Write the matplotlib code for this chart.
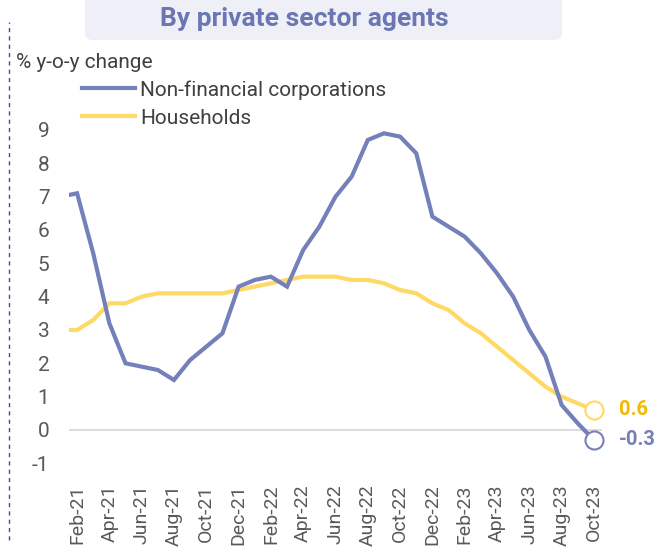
import matplotlib
matplotlib.use("Agg")
import matplotlib.pyplot as plt
from matplotlib.patches import FancyBboxPatch

plt.rcParams['font.family'] = ['Roboto', 'DejaVu Sans']

months = ["Jan-21", "Feb-21", "Mar-21", "Apr-21", "May-21", "Jun-21", "Jul-21", "Aug-21",
          "Sep-21", "Oct-21", "Nov-21", "Dec-21", "Jan-22", "Feb-22", "Mar-22", "Apr-22",
          "May-22", "Jun-22", "Jul-22", "Aug-22", "Sep-22", "Oct-22", "Nov-22", "Dec-22",
          "Jan-23", "Feb-23", "Mar-23", "Apr-23", "May-23", "Jun-23", "Jul-23", "Aug-23",
          "Sep-23", "Oct-23"]
nfc = [7.0, 7.1, 5.3, 3.2, 2.0, 1.9, 1.8, 1.5, 2.1, 2.5, 2.9, 4.3, 4.5, 4.6, 4.3, 5.4,
       6.1, 7.0, 7.6, 8.7, 8.9, 8.8, 8.3, 6.4, 6.1, 5.8, 5.3, 4.7, 4.0, 3.0, 2.2, 0.75,
       0.2, -0.3]
households = [3.0, 3.0, 3.3, 3.8, 3.8, 4.0, 4.1, 4.1, 4.1, 4.1, 4.1, 4.2, 4.3, 4.4, 4.5, 4.6,
              4.6, 4.6, 4.5, 4.5, 4.4, 4.2, 4.1, 3.8, 3.6, 3.2, 2.9, 2.5, 2.1, 1.7, 1.3, 1.0,
              0.8, 0.6]
yticks = [-1, 0, 1, 2, 3, 4, 5, 6, 7, 8, 9]
xtick_labels = months[1::2]

BLUE = "#7480B9"
YELLOW = "#FFD966"
GOLD = "#F5B800"
GREY = "#595959"

W, H = 660, 560
fig = plt.figure(figsize=(6.6, 5.6), dpi=100)

# axes placement (pixel based)
left, right, top, bottom = 69, 602, 113.3, 480
ax = fig.add_axes([left / W, 1 - bottom / H, (right - left) / W, (bottom - top) / H])

x = list(range(len(months)))
ax.plot(x, nfc, color=BLUE, lw=3.0, solid_joinstyle='miter', label="Non-financial corporations", zorder=3)
ax.plot(x, households, color=YELLOW, lw=3.0, solid_joinstyle='miter', label="Households", zorder=2)

ax.axhline(0, color="#D9D9D9", lw=1.3, zorder=1)

# end markers
ax.plot([x[-1]], [households[-1]], 'o', ms=13, mfc='white', mec=YELLOW, mew=1.5, clip_on=False, zorder=4)
ax.plot([x[-1]], [nfc[-1]], 'o', ms=13, mfc='white', mec=BLUE, mew=1.5, clip_on=False, zorder=5)
ax.annotate(f"{households[-1]:.1f}", (x[-1], households[-1]), xytext=(18, 0), textcoords='offset points',
            color=GOLD, fontsize=14.5, fontweight='bold', va='center', ha='left', annotation_clip=False)
ax.annotate(f"{nfc[-1]:.1f}", (x[-1], nfc[-1]), xytext=(18, 0), textcoords='offset points',
            color=BLUE, fontsize=14.5, fontweight='bold', va='center', ha='left', annotation_clip=False)

ax.set_xlim(0.5, 33.5)
ax.set_ylim(-1.5, 9.5)
ax.set_yticks(yticks)
ax.set_yticklabels([str(v) for v in yticks])
ax.set_xticks(x[1::2])
ax.set_xticklabels(xtick_labels, rotation=90)
ax.tick_params(axis='both', length=0, colors=GREY, labelsize=14)
ax.tick_params(axis='y', pad=14, labelsize=15)
ax.tick_params(axis='x', pad=3)
for s in ax.spines.values():
    s.set_visible(False)
ax.set_facecolor('none')

# legend
leg = ax.legend(loc='upper left', bbox_to_anchor=(82 / W, 1 - 80 / H), bbox_transform=fig.transFigure,
                frameon=False, fontsize=15, handlelength=2.55, handletextpad=0.24, labelspacing=0.44,
                borderpad=0, borderaxespad=0)
for t in leg.get_texts():
    t.set_color("#404040")

# y-axis title
fig.text(16 / W, 1 - 62 / H, "% y-o-y change", fontsize=15, color="#404040", va='center', ha='left')

# title box
box = FancyBboxPatch((85 / W, 1 - 40 / H), (562 - 85) / W, 60 / H,
                     boxstyle="round,pad=0,rounding_size=0.012", transform=fig.transFigure,
                     facecolor="#EFF0F7", edgecolor='none', zorder=0)
fig.add_artist(box)
fig.text(304 / W, 1 - 19 / H, "By private sector agents", fontsize=19, fontweight='bold',
         color="#6B76B3", ha='center', va='center')

# dashed vertical separator
fig.add_artist(plt.Line2D([9 / W, 9 / W], [1 - 540 / H, 1 - 22 / H], transform=fig.transFigure,
                          color="#2E4FA8", lw=1.0, ls=(0, (3, 3))))

fig.savefig("out.png", dpi=100)
